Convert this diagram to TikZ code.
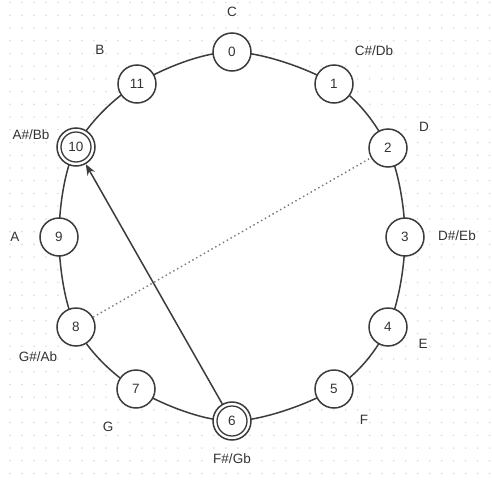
\documentclass[tikz,border=0pt]{standalone}
\usepackage{fontspec}
\setmainfont{Liberation Sans}
\usetikzlibrary{arrows.meta}
\definecolor{ink}{HTML}{3C3C3C}
\definecolor{txt}{HTML}{333333}
\definecolor{gridgray}{HTML}{DCDCDC}
\begin{document}
\begin{tikzpicture}[x=1pt,y=-1pt,
  pitch/.style={circle, draw=ink, line width=1.5pt, fill=white, minimum size=38pt,
    inner sep=0pt, text=txt, font=\fontsize{13.5}{15}\selectfont},
  note/.style={text=txt, inner sep=0pt, font=\fontsize{13.5}{15}\selectfont},
  ring/.style={draw=ink, line width=1.5pt},
  link/.style={draw=ink, line width=1.5pt}]
  \useasboundingbox (0,0) rectangle (492,501);
  \fill[white] (0,0) rectangle (492,501);
  % dotted background grid
  \foreach \i in {0,...,40}
    \foreach \j in {0,...,37}
      \fill[gridgray] ({10+11.99*\i},{2.5+12.73*\j}) circle (0.9);
  % positions of the twelve pitch classes
  \coordinate (p0) at (232,52);
  \coordinate (p1) at (334,84);
  \coordinate (p2) at (388,148);
  \coordinate (p3) at (405,237);
  \coordinate (p4) at (388,327);
  \coordinate (p5) at (334,389);
  \coordinate (p6) at (232,421);
  \coordinate (p7) at (136,389);
  \coordinate (p8) at (76,327);
  \coordinate (p9) at (59,237);
  \coordinate (p10) at (76,147);
  \coordinate (p11) at (137,84);
  % the ring joining them
  \draw[ring, fill=white] plot[smooth cycle, tension=0.55] coordinates
    {(p0) (p1) (p2) (p3) (p4) (p5) (p6) (p7) (p8) (p9) (p10) (p11)};
  % pitch-class nodes
  \foreach \k in {0,...,11}
    \node[pitch] (n\k) at (p\k) {\k};
  \draw[ink, line width=1.3pt] (n10.center) circle (15);
  \draw[ink, line width=1.3pt] (n6.center) circle (15);
  % note names
  \node[note] (lC)  at (232,12)  {C};
  \node[note] (lCs) at (374,51)  {C\#/Db};
  \node[note] (lD)  at (424,127) {D};
  \node[note] (lDs) at (457,236) {D\#/Eb};
  \node[note] (lE)  at (423,344) {E};
  \node[note] (lF)  at (364,420) {F};
  \node[note] (lFs) at (232,459) {F\#/Gb};
  \node[note] (lG)  at (108,427) {G};
  \node[note] (lGs) at (38,357)  {G\#/Ab};
  \node[note] (lA)  at (15,237)  {A};
  \node[note] (lAs) at (31,135)  {A\#/Bb};
  \node[note] (lB)  at (100,50)  {B};
  % intervals
  \draw[link, -{Stealth[length=11pt,width=8.5pt]}] (n6) -- (n10);
  \draw[link, draw=ink!70, line width=1.4pt, dash pattern=on 1.4pt off 3pt] (n8) -- (n2);
\end{tikzpicture}
\end{document}
